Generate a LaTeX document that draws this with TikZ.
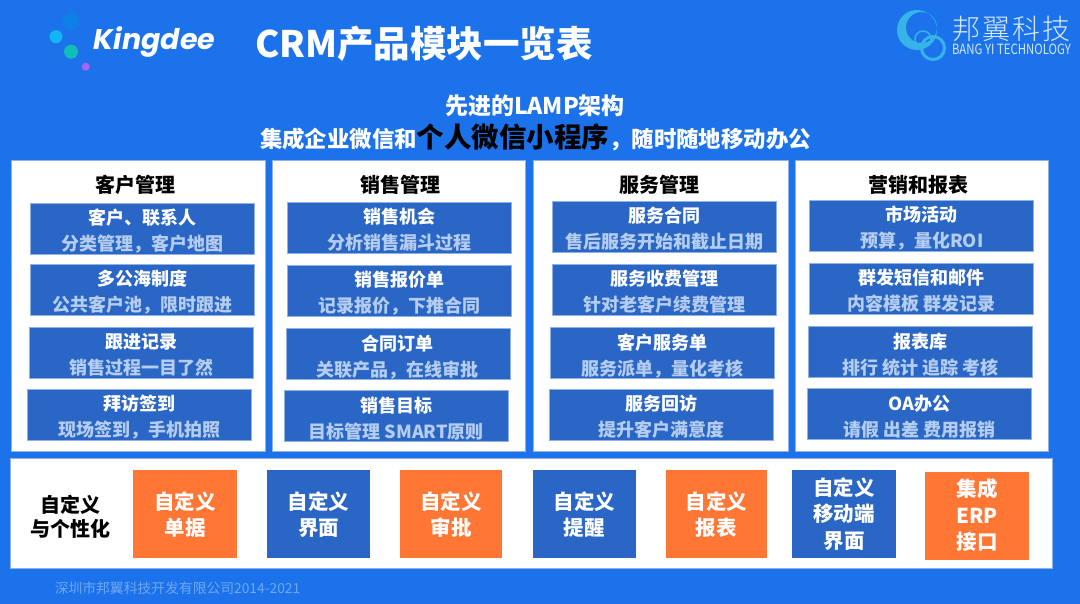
\documentclass[tikz,border=0pt]{standalone}
\usepackage{fontspec}
\setmainfont{Noto Sans CJK SC}
\newfontfamily\logofont{Poppins}
\newfontfamily\thincjk{Noto Sans CJK SC Light}
\usetikzlibrary{positioning}

\definecolor{bgblue}{HTML}{1C72EB}
\definecolor{boxblue}{HTML}{2A66C5}
\definecolor{boxedge}{HTML}{8FB2E6}
\definecolor{subblue}{HTML}{B4CDF1}
\definecolor{boxorange}{HTML}{FF7635}
\definecolor{footblue}{HTML}{70A8F3}
\definecolor{logotext}{HTML}{D5E9FB}
\definecolor{dotblue}{HTML}{0E80E8}
\definecolor{dotcyan}{HTML}{12B6F7}
\definecolor{dotteal}{HTML}{12BDB8}
\definecolor{dotviolet}{HTML}{A866F0}
\definecolor{ringcyan}{HTML}{36B3E8}

\newcommand{\subline}[1]{{\color{subblue}#1}}
\newcommand{\fwcomma}{\symbol{"FF0C}}

\tikzset{
  panel/.style={fill=white, draw=boxedge, line width=0.8pt, minimum height=291pt},
  paneltitle/.style={font=\fontsize{20}{24}\selectfont\bfseries, text=black, inner sep=0pt},
  modbox/.style={fill=boxblue, draw=boxedge, line width=0.6pt, minimum width=224pt, minimum height=51pt,
    inner sep=0pt, align=center, text=white, font=\fontsize{18}{26}\selectfont\bfseries,
    text height=47pt, text depth=3pt},
  custbox/.style={minimum height=88pt, inner sep=0pt, align=center, text=white,
    font=\fontsize{20.5}{26.5}\selectfont\bfseries,
    text height=49pt, text depth=6pt},
  orangebox/.style={custbox, fill=boxorange},
  bluebox/.style={custbox, fill=boxblue},
  threelines/.style={text height=74pt, text depth=6pt},
}

\begin{document}
\begin{tikzpicture}[x=1pt,y=-1pt]
  \useasboundingbox (0,0) rectangle (1080,604);
  \fill[bgblue] (0,0) rectangle (1080,604);

  % kingdee logo
  \fill[dotblue] (70.6,21.7) circle (8.5pt);
  \fill[dotcyan] (56,36.7) circle (6.5pt);
  \fill[dotteal] (71,51.7) circle (7pt);
  \fill[dotviolet] (85.7,66.7) circle (4pt);
  \node[text=white, inner sep=0pt] (kingdee) at (154.5,42) {\logofont\fontsize{28.5}{30}\selectfont\bfseries\itshape Kingdee};

  % bangyi logo
  \fill[ringcyan, even odd rule] (917,30) circle (20pt) (921.5,27.5) circle (15.5pt);
  \draw[ringcyan, line width=1.5pt] (923,39) circle (8pt);
  \draw[ringcyan, line width=3pt] (933,48) circle (11.5pt);
  \node[text=logotext, inner sep=0pt] (bangyi) at (1011.5,29) {\thincjk\fontsize{28}{28}\selectfont 邦\hspace{2pt}翼\hspace{2pt}科\hspace{2pt}技};
  \node[text=logotext, inner sep=0pt] (bangyien) at (1011.5,49) {\resizebox{119pt}{10.5pt}{BANG YI TECHNOLOGY}};

  % headings
  \node[text=white, inner sep=0pt, font=\fontsize{36.5}{40}\selectfont\bfseries] (title) at (424,44) {CRM产品模块一览表};
  \node[text=white, inner sep=0pt, font=\fontsize{23}{26}\selectfont\bfseries] (lamp) at (535,106) {先进的LAMP架构};
  \node[text=white, inner sep=0pt, font=\fontsize{22.4}{28}\selectfont\bfseries] (wechat) at (535.5,137)
    {集成企业微信和{\fontsize{27.5}{28}\selectfont\color{black}个人微信小程序}\fwcomma 随时随地移动办公};

  % four panels
  \node[panel, minimum width=254pt] (pkehu) at (138,305.5) {};
  \node[panel, minimum width=253pt] (pxiao) at (398.5,305.5) {};
  \node[panel, minimum width=254.5pt] (pfuwu) at (660.75,305.5) {};
  \node[panel, minimum width=253pt] (pying) at (921.5,305.5) {};
  \node[paneltitle] (tkehu) at (135,185) {客户管理};
  \node[paneltitle] (txiao) at (400,185) {销售管理};
  \node[paneltitle] (tfuwu) at (659,185) {服务管理};
  \node[paneltitle] (tying) at (918,185) {营销和报表};

  % customers
  \node[modbox] (kh1) at (142.5,228.5) {客户、联系人\\\subline{分类管理\fwcomma 客户地图}};
  \node[modbox] (kh2) at (142.5,289.5) {多公海制度\\\subline{公共客户池\fwcomma 限时跟进}};
  \node[modbox] (kh3) at (141.3,352.5) {跟进记录\\\subline{销售过程一目了然}};
  \node[modbox] (kh4) at (139.7,414.5) {拜访签到\\\subline{现场签到\fwcomma 手机拍照}};
  % sales
  \node[modbox] (xs1) at (399.2,227.5) {销售机会\\\subline{分析销售漏斗过程}};
  \node[modbox] (xs2) at (399.2,290.5) {销售报价单\\\subline{记录报价\fwcomma 下推合同}};
  \node[modbox] (xs3) at (397.8,354) {合同订单\\\subline{关联产品\fwcomma 在线审批}};
  \node[modbox] (xs4) at (396.2,416) {销售目标\\\subline{目标管理 SMART原则}};
  % service
  \node[modbox] (fw1) at (664,226.5) {服务合同\\\subline{售后服务开始和截止日期}};
  \node[modbox] (fw2) at (664,289.5) {服务收费管理\\\subline{针对老客户续费管理}};
  \node[modbox] (fw3) at (662.5,353) {客户服务单\\\subline{服务派单\fwcomma 量化考核}};
  \node[modbox] (fw4) at (661.2,414.5) {服务回访\\\subline{提升客户满意度}};
  % marketing
  \node[modbox] (yx1) at (921.7,225.5) {市场活动\\\subline{预算\fwcomma 量化ROI}};
  \node[modbox] (yx2) at (921.7,288.5) {群发短信和邮件\\\subline{内容模板 群发记录}};
  \node[modbox] (yx3) at (920.5,352) {报表库\\\subline{排行 统计 追踪 考核}};
  \node[modbox] (yx4) at (919.3,414) {OA办公\\\subline{请假 出差 费用报销}};

  % bottom row
  \node[fill=white, draw=boxedge, line width=0.8pt, minimum width=1042pt, minimum height=110pt] (pzdy) at (531,513) {};
  \node[align=center, inner sep=0pt, text=black, font=\fontsize{20}{24}\selectfont\bfseries] (tzdy) at (70.5,516.5) {自定义\\与个性化};
  \node[orangebox, minimum width=104pt] (zd1) at (185,514) {自定义\\单据};
  \node[bluebox, minimum width=103pt] (zd2) at (318.5,514) {自定义\\界面};
  \node[orangebox, minimum width=102pt] (zd3) at (451,514) {自定义\\审批};
  \node[bluebox, minimum width=103.5pt] (zd4) at (584.25,514) {自定义\\提醒};
  \node[orangebox, minimum width=100.5pt] (zd5) at (716.25,514) {自定义\\报表};
  \node[bluebox, threelines, minimum width=104pt] (zd6) at (844,514) {自定义\\移动端\\界面};
  \node[orangebox, threelines, minimum width=104pt] (zd7) at (977,515.5) {集成\\ERP\\接口};

  \node[text=footblue, inner sep=0pt, font=\fontsize{13.8}{16}\selectfont] (foot) at (177.5,588) {深圳市邦翼科技开发有限公司2014-2021};
\end{tikzpicture}
\end{document}
